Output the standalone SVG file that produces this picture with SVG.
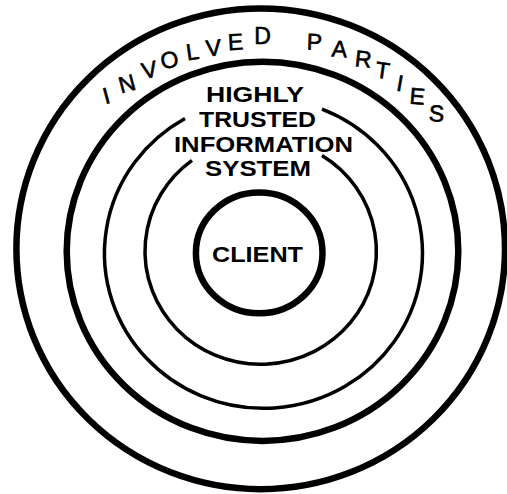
<svg xmlns="http://www.w3.org/2000/svg" width="507" height="494" viewBox="0 0 507 494">
  <style>
    .thick { fill: none; stroke: #000; stroke-width: 6.5; }
    .thin { fill: none; stroke: #000; stroke-width: 3.5; }
    .lbl { font-family: "Liberation Sans", Arial, sans-serif; font-weight: bold; font-size: 22px; fill: #000; text-anchor: middle; }
    .arc { font-family: "Liberation Sans", Arial, sans-serif; font-size: 23px; fill: #000; stroke: #000; stroke-width: 0.6; }
  </style>
  <rect width="507" height="494" fill="#fff"/>
  <g id="outer-ring">
    <ellipse class="thick" cx="260.7" cy="248.8" rx="244.3" ry="240.4"/>
  </g>
  <g id="involved-parties">
    <ellipse class="thick" cx="262.5" cy="251.3" rx="195.8" ry="189.6"/>
    <text class="arc"
      x="105.2 121 143.6 162 187.2 206.5 228.2 254.2 285 306.5 331.2 354.3 374.4 395.4 409.1 428.4"
      y="104.3 93.6 79.2 69.2 60.6 56.4 50.2 44.3 45 49.5 56.2 65.9 77.2 90.6 103.6 120.9"
      rotate="-15 -15 -12 -10 -8 -5 -3 0 0 2 4 6 8 10 5 3">INVOLVED PARTIES</text>
  </g>
  <g id="highly-trusted-information-system">
    <path class="thin" d="M 322 109.2 A 159 155 0 1 1 185 118.5"/>
    <path class="thin" d="M 322 155.4 A 115.7 113 0 1 1 192 160.3"/>
    <text class="lbl" x="255" y="101.7" textLength="98" lengthAdjust="spacingAndGlyphs">HIGHLY</text>
    <text class="lbl" x="257.5" y="126.7" textLength="117" lengthAdjust="spacingAndGlyphs">TRUSTED</text>
    <text class="lbl" x="263.5" y="151.7" textLength="179" lengthAdjust="spacingAndGlyphs">INFORMATION</text>
    <text class="lbl" x="258" y="175.5" textLength="106" lengthAdjust="spacingAndGlyphs">SYSTEM</text>
  </g>
  <g id="client">
    <ellipse class="thick" cx="259.2" cy="252.9" rx="63.3" ry="60.4"/>
    <text class="lbl" x="257.5" y="261.7" font-size="24" textLength="91" lengthAdjust="spacingAndGlyphs">CLIENT</text>
  </g>
</svg>
